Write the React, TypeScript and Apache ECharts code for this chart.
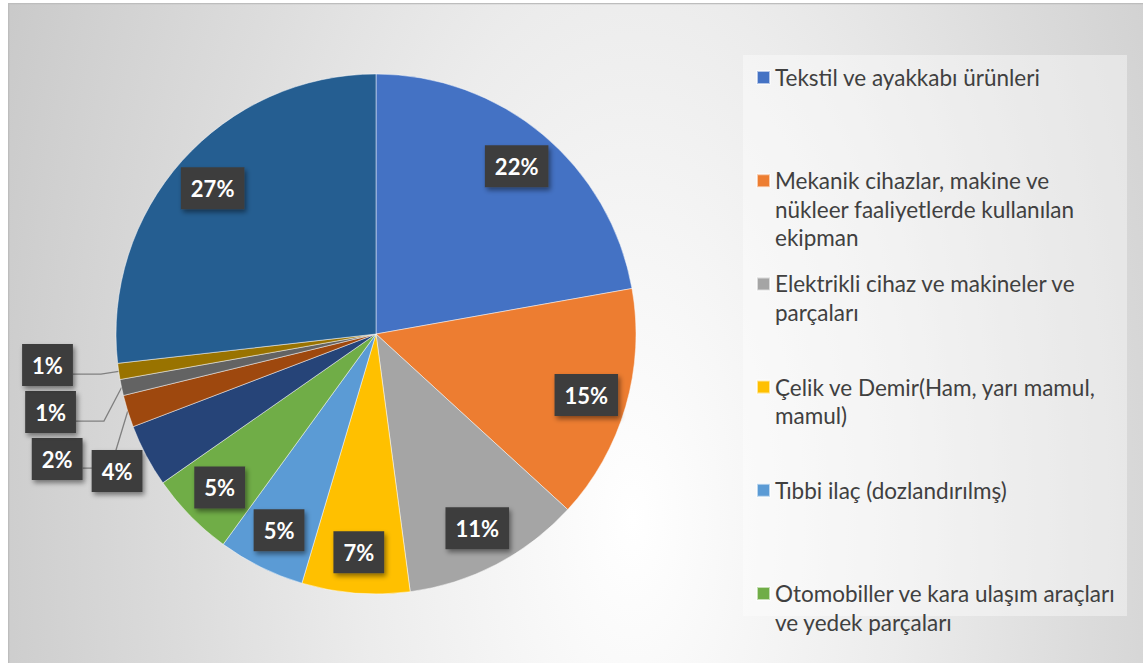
import React, { useEffect, useRef } from "react";
import * as echarts from "echarts";

// ---- data ----
const categories: string[] = [
  "Tekstil ve ayakkabı ürünleri",
  "Mekanik cihazlar, makine ve nükleer faaliyetlerde kullanılan ekipman",
  "Elektrikli cihaz ve makineler ve parçaları",
  "Çelik ve Demir(Ham, yarı mamul, mamul)",
  "Tıbbi ilaç (dozlandırılmş)",
  "Otomobiller ve kara ulaşım araçları ve yedek parçaları",
  "Plastikler ve mamulleri",
  "Demir veya çelikten eşya",
  "Mobilyalar",
  "Organik kimyasallar",
  "Diğer",
];
const shares: number[] = [22.2, 14.6, 11.1, 6.7, 5.4, 5.3, 3.9, 2.0, 1.0, 1.0, 26.8];
const colors: string[] = [
  "#4472C4", "#ED7D31", "#A5A5A5", "#FFC000", "#5B9BD5", "#70AD47",
  "#264478", "#9E480E", "#636363", "#997300", "#255E91",
];
// legend shows only the first six entries, wrapped as in the original
const legendLines: string[][] = [
  ["Tekstil ve ayakkabı ürünleri"],
  ["Mekanik cihazlar, makine ve", "nükleer faaliyetlerde kullanılan", "ekipman"],
  ["Elektrikli cihaz ve makineler ve", "parçaları"],
  ["Çelik ve Demir(Ham, yarı mamul,", "mamul)"],
  ["Tıbbi ilaç (dozlandırılmş)"],
  ["Otomobiller ve kara ulaşım araçları", "ve yedek parçaları"],
];
// which slices carry an outside label with a leader line / far label
const leaderIdx: number[] = [7, 8, 9];
const farIdx: number[] = [6];

const FONT = "Lato, 'Noto Sans', sans-serif";
const W = 1135;
const H = 660;
const CX = 368;
const CY = 331;
const R = 260;
const LH = 28.5;

const pct = (p: any) => Math.round(p.percent) + "%";

const boxLabel = {
  color: "#ffffff",
  fontFamily: FONT,
  fontWeight: "bold" as const,
  fontSize: 22,
  lineHeight: 22,
  backgroundColor: "#3d3d3d",
  padding: [10, 10, 10, 10],
  shadowBlur: 5,
  shadowColor: "rgba(0,0,0,0.45)",
  shadowOffsetX: 2,
  shadowOffsetY: 3,
  formatter: pct,
};

export default function App() {
  const ref = useRef<HTMLDivElement>(null);
  useEffect(() => {
    if (!ref.current) return;
    const chart = echarts.init(ref.current, null, { renderer: "svg" });

    const mainData = categories.map((name, i) => {
      const lead = leaderIdx.includes(i);
      return {
        name,
        value: shares[i],
        itemStyle: { color: colors[i] },
        label: lead ? { show: true, position: "outside", ...boxLabel } : { show: false },
        labelLine: lead
          ? { show: true, length: 18, length2: 28, lineStyle: { color: "#808080", width: 1.3 } }
          : { show: false },
      };
    });
    const innerData = categories.map((name, i) => ({
      name,
      value: shares[i],
      label: { show: !leaderIdx.includes(i) && !farIdx.includes(i) },
    }));
    const farData = categories.map((name, i) => ({
      name,
      value: shares[i],
      label: { show: farIdx.includes(i) },
    }));

    const legends = legendLines.map((lines, i) => {
      const n = lines.length;
      const iconCenter = 74.5 + i * 103.2;
      return {
        orient: "vertical",
        left: 748,
        top: iconCenter - ((2 * n - 1) * LH) / 2,
        padding: 0,
        icon: "rect",
        itemWidth: 13,
        itemHeight: 13,
        selectedMode: false,
        data: [categories[i]],
        // blank lines on top keep the square beside the first line
        formatter: () => "\n".repeat(n - 1) + lines.join("\n"),
        textStyle: {
          fontFamily: FONT,
          fontSize: 22.5,
          lineHeight: LH,
          color: "#404040",
        },
      };
    });

    chart.setOption({
      animation: false,
      graphic: [
        {
          type: "rect",
          z: -10,
          silent: true,
          shape: { x: 0, y: -620, width: W, height: 2272 },
          style: {
            fill: {
              type: "radial",
              x: 0.55,
              y: 0.5,
              r: 0.88,
              colorStops: [
                { offset: 0, color: "#ffffff" },
                { offset: 0.27, color: "#ececec" },
                { offset: 0.45, color: "#dcdcdc" },
                { offset: 0.6, color: "#d0d0d0" },
                { offset: 0.72, color: "#c6c6c6" },
                { offset: 1, color: "#bcbcbc" },
              ],
            },
          },
        },
        {
          type: "rect",
          z: -9,
          silent: true,
          shape: { x: 0.5, y: 0.5, width: W + 10, height: H + 10 },
          style: { fill: "none", stroke: "#bdbdbd", lineWidth: 1.5 },
        },
        {
          type: "rect",
          z: -8,
          silent: true,
          shape: { x: 735, y: 52, width: 384, height: 561 },
          style: { fill: "rgba(255,255,255,0.4)" },
        },
      ],
      legend: legends,
      series: [
        {
          type: "pie",
          center: [CX, CY],
          radius: [0, R],
          startAngle: 90,
          clockwise: true,
          avoidLabelOverlap: true,
          silent: true,
          itemStyle: { borderColor: "rgba(255,255,255,0.6)", borderWidth: 0.8 },
          label: { distanceToLabelLine: 0, minMargin: 5, alignTo: "labelLine" },
          labelLayout: { hideOverlap: false, dy: -9 },
          data: mainData,
        },
        {
          type: "pie",
          center: [CX, CY],
          radius: [172, R],
          startAngle: 90,
          clockwise: true,
          silent: true,
          avoidLabelOverlap: false,
          itemStyle: { color: "rgba(0,0,0,0)" },
          label: { position: "inner", ...boxLabel },
          labelLine: { show: false },
          labelLayout: { hideOverlap: false },
          data: innerData,
        },
        {
          type: "pie",
          center: [CX, CY],
          radius: [243, 337],
          startAngle: 90,
          clockwise: true,
          silent: true,
          avoidLabelOverlap: false,
          itemStyle: { color: "rgba(0,0,0,0)" },
          label: { position: "inner", ...boxLabel },
          labelLine: { show: false },
          labelLayout: { hideOverlap: false },
          data: farData,
        },
      ],
    });
    return () => chart.dispose();
  }, []);
  return (
    <div
      ref={ref}
      style={{ position: "absolute", left: 8, top: 3, width: W, height: H }}
    />
  );
}
